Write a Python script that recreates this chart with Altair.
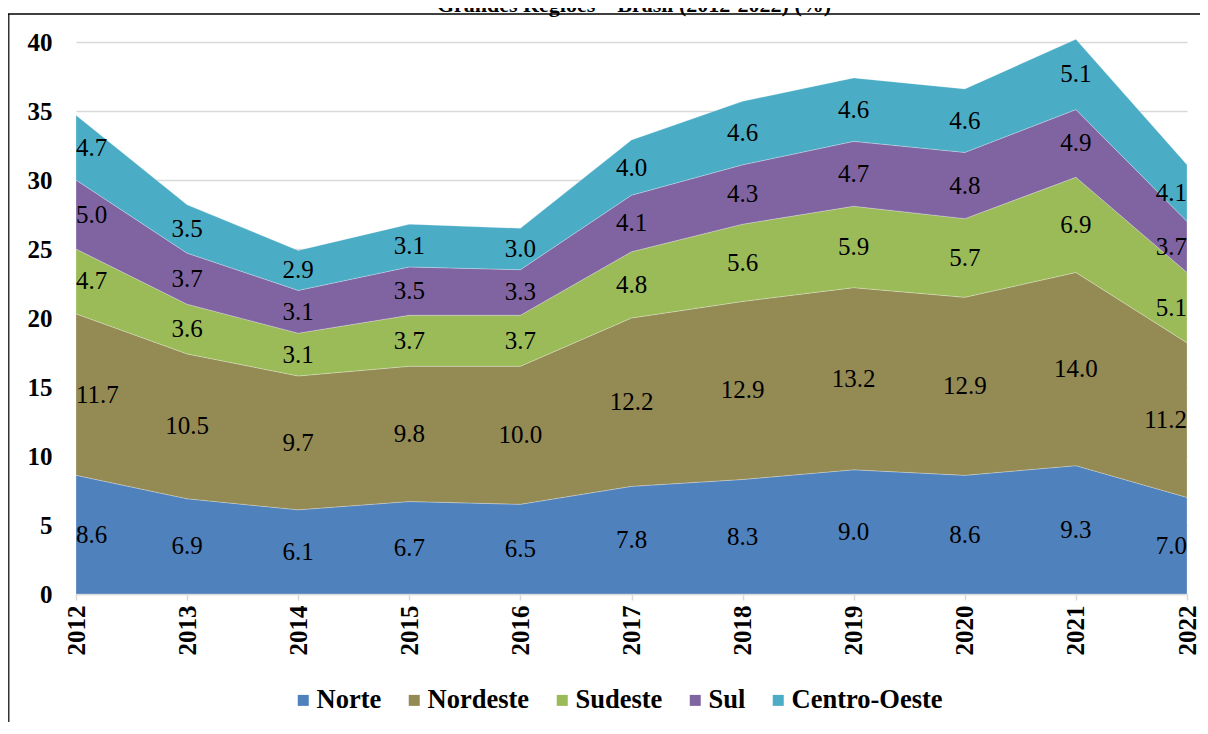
import altair as alt
import pandas as pd

years = list(range(2012, 2023))
regions = ["Norte", "Nordeste", "Sudeste", "Sul", "Centro-Oeste"]
norte = [8.6, 6.9, 6.1, 6.7, 6.5, 7.8, 8.3, 9.0, 8.6, 9.3, 7.0]
nordeste = [11.7, 10.5, 9.7, 9.8, 10.0, 12.2, 12.9, 13.2, 12.9, 14.0, 11.2]
sudeste = [4.7, 3.6, 3.1, 3.7, 3.7, 4.8, 5.6, 5.9, 5.7, 6.9, 5.1]
sul = [5.0, 3.7, 3.1, 3.5, 3.3, 4.1, 4.3, 4.7, 4.8, 4.9, 3.7]
centro_oeste = [4.7, 3.5, 2.9, 3.1, 3.0, 4.0, 4.6, 4.6, 4.6, 5.1, 4.1]
colors = ["#4F81BD", "#948A54", "#9BBB59", "#8064A2", "#4BACC6"]
y_ticks = [0, 5, 10, 15, 20, 25, 30, 35, 40]
title_text = "Grandes Regiões – Brasil (2012-2022) (%)"

series = [norte, nordeste, sudeste, sul, centro_oeste]
rows = []
for i, yr in enumerate(years):
    cum = 0.0
    for k, (reg, vals) in enumerate(zip(regions, series)):
        v = vals[i]
        rows.append({"year": yr, "region": reg, "idx": k, "value": v,
                     "mid": cum + v / 2, "label": f"{v:.1f}"})
        cum += v
df = pd.DataFrame(rows)

FONT = "Liberation Serif, Times New Roman, DejaVu Serif, serif"

base = alt.Chart(df)

area = base.mark_area(stroke="white", strokeWidth=0.5, strokeOpacity=0.5).encode(
    x=alt.X("year:Q",
            scale=alt.Scale(domain=[2012, 2022], nice=False, zero=False),
            axis=alt.Axis(values=years, format="d", labelAngle=-90, title=None,
                          grid=False, domainColor="#D9D9D9", domainWidth=1.5,
                          tickColor="#D9D9D9", tickWidth=1.5, tickSize=6,
                          labelPadding=5, labelFont=FONT, labelFontSize=25,
                          labelFontWeight="bold", labelColor="black")),
    y=alt.Y("value:Q", stack="zero",
            scale=alt.Scale(domain=[0, 40], nice=False),
            axis=alt.Axis(values=y_ticks, title=None, domain=False, ticks=False,
                          grid=True, gridColor="#D9D9D9", gridWidth=1.5,
                          labelPadding=24, labelFont=FONT, labelFontSize=25,
                          labelFontWeight="bold", labelColor="black")),
    color=alt.Color("region:N",
                    scale=alt.Scale(domain=regions, range=colors),
                    legend=alt.Legend(title=None, orient="none", legendX=214,
                                      legendY=645, direction="horizontal",
                                      symbolType="square", symbolSize=121,
                                      symbolStrokeWidth=0, symbolOpacity=1,
                                      labelFont=FONT, labelFontSize=26.5,
                                      labelFontWeight="bold", labelColor="black",
                                      labelOffset=0, columnPadding=19)),
    order=alt.Order("idx:Q", sort="ascending"),
)


def text_layer(cond, align):
    return base.transform_filter(cond).mark_text(
        font=FONT, fontSize=25, color="black", baseline="middle", align=align
    ).encode(
        x=alt.X("year:Q"),
        y=alt.Y("mid:Q", stack=None),
        text="label:N",
    )


t_left = text_layer("datum.year == 2012", "left")
t_mid = text_layer("datum.year > 2012 && datum.year < 2022", "center")
t_right = text_layer("datum.year == 2022", "right")

one = alt.Chart(pd.DataFrame({"a": [0]}))
frame_left = one.mark_rule(color="#333333", strokeWidth=1.5).encode(
    x=alt.value(-67.25), y=alt.value(-28), y2=alt.value(680))
frame_top = one.mark_rule(color="black", strokeWidth=1.5).encode(
    x=alt.value(-68), x2=alt.value(1130), y=alt.value(-28))
title = one.mark_text(text=title_text, font=FONT, fontSize=22, fontWeight="bold",
                      color="black", align="center", baseline="alphabetic").encode(
    x=alt.value(558), y=alt.value(-30))

chart = alt.layer(area, t_left, t_mid, t_right, frame_left, frame_top, title).properties(
    width=1111, height=552,
    padding={"left": 68, "top": 34, "right": 13, "bottom": 132},
    autosize=alt.AutoSizeParams(type="none"),
).configure_view(stroke=None)

chart.save("out.html", embed_options={"renderer": "svg", "actions": False})
